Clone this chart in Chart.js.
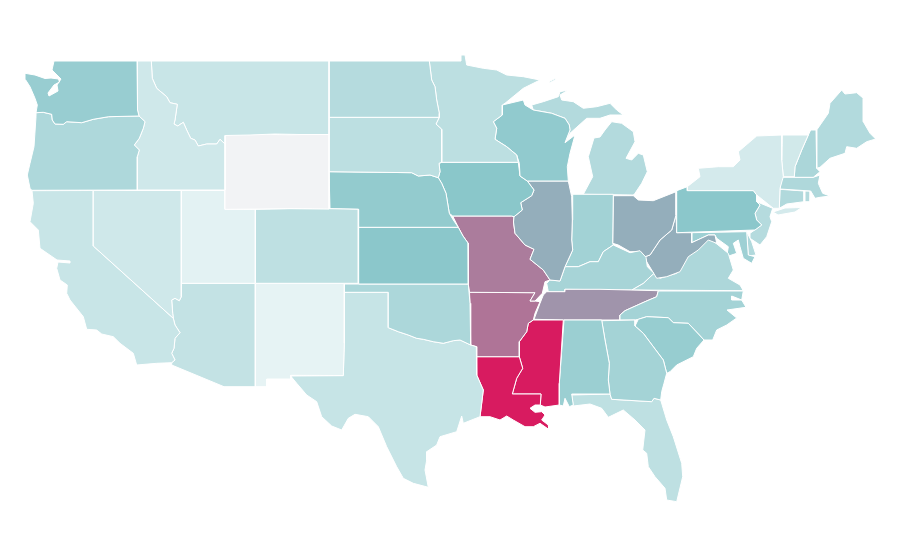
<!DOCTYPE html>
<html>
<head>
<meta charset="utf-8">
<title>US states</title>
<script src="https://cdn.jsdelivr.net/npm/chart.js@4"></script>
<style>
  html, body { margin: 0; padding: 0; background: #fff; }
  #wrap { width: 900px; height: 560px; }
</style>
</head>
<body>
<div id="wrap"><canvas id="map" width="900" height="560"></canvas></div>
<script>
// value per state (0 = palest, 50 = teal, 100 = crimson)
const stateNames = ["WA","OR","ID","MT","WY","NV","CA","UT","CO","AZ","NM","ND","SD","NE","KS","OK","TX","MN","WI","IA","IL","MO","AR","LA","MS","AL","GA","FL","SC","NC","TN","KY","IN","MI","MI2","MI3","OH","PA","WV","VA","MD","DE","NJ","NY","LI","VT","NH","ME","MA","CT","RI"];
const stateValues = [43,32.5,17,20,0,17,20,7.4,25,22.6,6,29,26,45.5,49,33.5,21,26,46,49.5,57,71.5,74,100,100,41.5,37,25,43.5,37,64.5,36,38,30,30,30,57,49,57,33,40,31,29,14.5,14.5,16,34,30.6,32,31,30];

// outlines in map units
const WA = [[54,61],[137,61],[137.5,110],[139,116],[108.7,116.7],[93.3,119.3],[81.7,122.7],[66.7,121.7],[63.3,124.3],[55,124],[52.3,120],[51.7,114.3],[43.3,112.3],[36,112.7],[37.3,105],[35,98.3],[30,86.7],[25.7,80],[25,73.3],[35,75],[45,78.5],[51,78],[58.5,79],[59.5,82],[54,85],[48,93],[49,96],[58,91],[57,85],[61,79],[56,74],[52,70]];
const OR = [[36,112.7],[43.3,112.3],[51.7,114.3],[52.3,120],[55,124],[63.3,124.3],[66.7,121.7],[81.7,122.7],[93.3,119.3],[108.7,116.7],[139,116],[145,121.7],[143.3,128.3],[139.3,138.3],[134.3,145],[139.3,150],[137.3,156.7],[137.3,190],[31.7,190.3],[30,188.3],[27.3,175],[30,163.3],[34,146.7],[36,116.7]];
const ID = [[137,61],[151.3,61],[152.3,78.3],[156.7,88.3],[166.7,96.7],[170,102.7],[177.3,104.3],[175,120],[174,124],[177.7,126],[183.3,122.3],[186.7,130],[190.7,138.3],[195,140],[198.3,146],[206.7,144],[216.7,144],[220,139.3],[225,144],[225,190],[137.3,190],[137.3,156.7],[139.3,150],[134.3,145],[139.3,138.3],[143.3,128.3],[145,121.7],[139,116],[137.5,110]];
const MT = [[151.3,61],[329,61],[329,134.5],[300,134.5],[275,134],[250,135],[225,135.5],[225,144],[220,139.3],[216.7,144],[206.7,144],[198.3,146],[195,140],[190.7,138.3],[186.7,130],[183.3,122.3],[177.7,126],[174,124],[175,120],[177.3,104.3],[170,102.7],[166.7,96.7],[156.7,88.3],[152.3,78.3]];
const WY = [[225,135],[260,134.3],[290,134.8],[329,134],[329,209],[290,208.5],[260,209],[225,209.3]];
const NV = [[93.3,190.5],[181.3,190.5],[181.3,296.7],[179.3,300.7],[175,298.3],[171.7,300],[172.7,313.3],[173.3,318.3],[93.3,246]];
const CA = [[32,190.7],[93.3,190.5],[93.3,246],[173.3,318.3],[175,325],[180,332.7],[175,338.3],[174,348.3],[171.7,353.3],[175,360],[171.7,362.7],[156.7,363.3],[136.7,365],[133.3,353.3],[120,343.3],[113.3,336.7],[101.7,334],[96.7,330],[86.7,329.3],[83.3,316.7],[70,300],[66.7,293.3],[67.3,285],[60,280],[56.7,268.3],[58,262],[70,263],[70,261],[57,260],[40,248.3],[38.3,230],[30,221.7],[33.3,203.3]];
const UT = [[181.3,190.5],[225,190.5],[225,209.3],[255.3,209.3],[255.3,283.3],[181.3,283.3]];
const CO = [[255.3,209.3],[290,208.7],[330,208.7],[358.3,209.3],[358.3,283.3],[255.3,283.3]];
const AZ = [[181.3,283.3],[255.3,283.3],[255.3,386.7],[224,386.7],[171.7,365],[171.7,362.7],[175,360],[171.7,353.3],[174,348.3],[175,338.3],[180,332.7],[175,325],[173.3,318.3],[172.7,313.3],[171.7,300],[175,298.3],[179.3,300.7],[181.3,296.7]];
const NM = [[255.3,283.3],[344.3,283.3],[344.3,343],[343.3,375.5],[290.7,375.3],[290.7,379],[266.7,379],[266.7,386.7],[255.3,386.7]];
const ND = [[329,61],[429.3,61],[431.7,80],[435,86.7],[436.7,100],[439.3,113.3],[439.3,117.3],[329,117.3]];
const SD = [[329,117.3],[439.3,117.3],[436,124],[441.7,129.3],[441.7,162.3],[439,163.3],[440,171.7],[438.3,177.7],[430,175],[418.3,176],[411.7,172.7],[329,171.7]];
const NE = [[329,171.7],[411.7,172.7],[418.3,176],[430,175],[438.3,177.7],[441.7,183.3],[446,193.3],[449.3,213.3],[453.3,220],[458.3,227.3],[358.7,227.3],[358.7,209.3],[330,208.7]];
const KS = [[358.7,227.3],[458.3,227.3],[463,236],[468,243],[468.3,284],[358.7,284]];
const OK = [[344.3,284],[468.3,284],[470,303.3],[470.7,345],[460,340],[453.3,340.7],[443.3,343.3],[433.3,341.7],[423.3,339.3],[416.7,338.3],[408.3,335],[398.3,331.7],[388.3,327.7],[388.3,292.3],[344.3,292.3]];
const TX = [[344.3,292.3],[388.3,292.3],[388.3,327.7],[398.3,331.7],[408.3,335],[416.7,338.3],[423.3,339.3],[433.3,341.7],[443.3,343.3],[453.3,340.7],[460,340],[470.7,345],[476.3,346.7],[476.7,375],[483.3,390],[481.7,403.3],[480,416.7],[463.3,423.3],[461.7,416],[456.7,431.7],[440,436.7],[436.7,445],[426.7,451.7],[426.7,460],[425,470],[428.3,487.3],[413.3,483.3],[403.3,478.3],[396.7,466.7],[386.7,446.7],[378.3,426.7],[368.3,416.7],[355,414.3],[348.3,418.3],[341.7,430],[331.7,426],[321.7,416.7],[316.7,401.7],[306.7,395],[296.7,383.3],[290.7,376],[343.3,375.7],[344.3,343]];
const MN = [[429.3,61],[461,61],[461,55],[465,55],[466.7,65],[483.3,68.3],[496.7,70],[506.7,75],[523.3,76.7],[540,80],[523.3,88.3],[505,103.3],[502.3,105],[502.3,115],[493.3,121.7],[496.7,128.3],[495,139.3],[506.7,146.7],[516.7,155],[518.3,162.3],[441.7,162.3],[441.7,129.3],[436,124],[439.3,117.3],[439.3,113.3],[436.7,100],[435,86.7],[431.7,80]];
const WI = [[502.3,105],[523.3,100],[525,105],[533.3,110],[551.7,113.3],[565,118.3],[569.3,125],[570,130],[565,142.7],[575,135],[570,153.3],[567.3,166.7],[568.3,181],[527.3,181],[520,176],[519.3,163.3],[516.7,155],[506.7,146.7],[495,139.3],[496.7,128.3],[493.3,121.7],[502.3,115]];
const IA = [[441.7,162.3],[518.3,162.3],[520,176],[527.3,181],[534,190],[531.7,195.7],[520.7,202.7],[522.3,210],[514,216.7],[511.7,216],[452.7,216],[449.3,213.3],[446,193.3],[441.7,183.3],[438.3,177.7],[440,171.7],[439,163.3]];
const IL = [[527.3,181],[568.3,181],[571.7,196.7],[572.3,220],[571.7,240],[572.7,250],[565,266.7],[560,281],[550,280],[543.3,270],[530,259.3],[534,249.3],[525,245],[515,233.3],[513.5,222],[514,216.7],[522.3,210],[520.7,202.7],[531.7,195.7],[534,190]];
const MO = [[452.7,216],[511.7,216],[514,216.7],[513.5,222],[515,233.3],[525,245],[534,249.3],[530,259.3],[543.3,270],[550,280],[545,281.7],[542.3,293.3],[535,301],[530,301],[535,292.7],[469.5,292.3],[468.3,284],[468,243],[463,236],[458.3,227.3]];
const AR = [[469.5,292.3],[535,292.7],[530,301],[535,301],[540,301.7],[535,313.3],[533.3,320],[528.3,323.3],[526.7,331.7],[519.3,341.7],[519.3,356.7],[476.7,356.7],[476.7,346.7],[470.7,345],[470,303.3]];
const LA = [[476.7,356.7],[519.3,356.7],[522.7,368.3],[516.7,378.3],[512.3,394],[541,394],[540.3,405],[535,405],[530,408.3],[535,412.3],[541.7,411.7],[545,415],[541.7,420],[548.3,425],[548.7,429.3],[540,423.3],[533.3,426.7],[525,426.7],[513.3,420],[506.7,416],[500,420],[490,416.7],[480,416.7],[481.7,403.3],[483.3,390],[476.7,375]];
const MS = [[533.3,320],[563.3,320],[559.3,383.3],[559.3,405],[545,407],[540.3,405],[541,394],[512.3,394],[516.7,378.3],[522.7,368.3],[519.3,356.7],[519.3,341.7],[526.7,331.7],[528.3,323.3]];
const AL = [[564,320],[601.7,320],[605,340],[609.3,363.3],[608.3,380],[610,394],[571.7,394],[573.3,405],[569.3,406.7],[565,398.3],[563.3,406],[559.3,405],[559.3,383.3]];
const GA = [[601.7,320.7],[635,320],[635,326],[643.3,333.3],[653.3,346.7],[663.3,360],[666.7,373.3],[664,383.3],[661.7,391.7],[660.7,400],[654,398.3],[651.7,401.7],[611.7,399.3],[610,394],[608.3,380],[609.3,363.3],[605,340]];
const FL = [[571.7,395],[610,394],[611.7,399.3],[651.7,401.7],[654,398.3],[660.7,400],[666.7,420],[673.3,436.7],[681.7,463.3],[682.7,476.7],[676.7,501.7],[666.7,500],[665,488.3],[655,476.7],[648.3,466.7],[646.7,453.3],[642.7,450],[645,430],[635,420],[623.3,410],[608.3,417.3],[601.7,408.3],[590,404],[573.3,406]];
const SC = [[635,326],[638.3,319.3],[646.7,316.7],[668.3,317.7],[673.3,322.7],[688.3,323.3],[704,340],[696.7,348.3],[693.3,356.7],[676.7,365],[670,371.7],[666.7,373.3],[663.3,360],[653.3,346.7],[643.3,333.3]];
const NC = [[620,315],[625,310.7],[645,301.7],[656.7,296.7],[658.3,291],[743.3,291],[741.7,300],[731.7,296],[731.7,300],[741.7,300],[746,307.3],[727,310],[736.7,318],[726.7,325],[716.7,330],[712.7,340],[704,340],[688.3,323.3],[673.3,322.7],[668.3,317.7],[646.7,316.7],[638.3,319.3],[635,320],[620,320]];
const TN = [[546.7,291.7],[565,291.7],[565,289.3],[600,289.3],[630,290],[658.3,290.7],[656.7,296.7],[645,301.7],[625,310.7],[620,315],[620,320],[563.3,320],[534,319.3],[540,303.3],[543.3,295]];
const KY = [[548.3,291.7],[546.7,283.3],[550,280],[560,281],[565,266.7],[578.3,266.7],[590,261.7],[598.3,261.7],[603.3,251.7],[613.3,245],[630,252.7],[640,250.7],[646,257.3],[647.3,266.7],[654,273.3],[643.3,283.3],[631.7,290],[565,289.3],[565,291.7]];
const IN = [[572.7,194.3],[613.3,194.3],[612.7,243.3],[613.3,245],[603.3,251.7],[598.3,261.7],[590,261.7],[578.3,266.7],[565,266.7],[572.7,250],[571.7,240],[572.3,220]];
const MI = [[583.3,194.3],[592.7,176.7],[588.3,156.7],[594,138],[600,137],[605,130],[611.7,121.7],[621.7,123.3],[633.3,131.7],[635,141.7],[626,158.3],[631.7,160],[638.3,153.3],[643.3,155],[647.3,171.7],[641.7,183.3],[635,193.3],[633.3,195]];
const MI2 = [[533.3,110],[531.7,105],[543.3,101.7],[558.3,96.7],[560,91.7],[568.3,90],[560,95],[561.7,100],[573.3,101.7],[583.3,108.3],[596.7,106.7],[610,103.3],[616.7,110],[623.3,115],[610,115],[600,118.3],[586.7,118.3],[570,133.3],[565,142.7],[570,130],[569.3,125],[565,118.3],[551.7,113.3]];
const MI3 = [[549,81.7],[556,78],[555,80],[550,82.5]];
const OH = [[613.3,195.7],[633.3,195.7],[638.3,200],[653.3,200.7],[676,191.7],[676,215],[671.7,230],[660,240],[650,255],[645,256.7],[640,251.7],[630,251.7],[618.3,245],[612.7,243.3]];
const PA = [[676.7,190.7],[687.3,186.7],[687.3,190.7],[753.3,190.7],[756.7,195],[756.7,201.7],[760,205],[755,213.3],[756.7,220],[761.7,225],[755,230],[676.7,232.7]];
const WV = [[676,215],[676.7,232.7],[691.7,232.7],[691.7,242.7],[708.3,235],[715,235],[716.7,243.3],[708.3,240],[698.3,250],[688.3,256.7],[680,271.7],[666.7,276.7],[656.7,278.3],[646.7,261.7],[645,256.7],[650,255],[660,240],[671.7,230]];
const VA = [[631.7,290],[643.3,283.3],[654,273.3],[660,278.3],[676.7,273.3],[683.3,263.3],[690,253.3],[706.7,236.7],[716,243.3],[728.3,253.3],[733.3,270],[728.3,278.3],[740,285],[743.3,290.7]];
const MD = [[691.7,232.7],[746.7,231.7],[748.3,255],[755,256.7],[751.7,263.3],[743.3,258.3],[740,246.7],[738.3,240],[733.3,243.3],[736.7,253.3],[726.7,256.7],[728.3,246.7],[716.7,238.3],[715,235],[708.3,235],[691.7,242.7]];
const DE = [[746.7,231.7],[751.7,241.7],[756,255],[748.3,256]];
const NJ = [[756.7,201.7],[772.7,208.3],[770,216.7],[771.7,221.7],[766.7,236.7],[760,245],[750,238.3],[750,233.3],[761.7,225],[756.7,220],[755,213.3],[760,205]];
const NY = [[687.3,186.7],[700,176.7],[698.3,168.3],[718.3,166.7],[733.3,166.7],[740,160],[738.3,151.7],[756.7,136],[781.7,135],[781.7,160],[783.3,176.7],[780,188.3],[779.3,208.3],[773.3,208.3],[756.7,195],[753.3,190.7],[687.3,190.7]];
const LI = [[773,212],[785,208],[801.7,207.5],[795,212],[778,215]];
const VT = [[782.3,135],[808.3,135],[801.7,150],[795,166.7],[794.3,176.7],[783.3,176.7],[781.7,160]];
const NH = [[808.3,135],[810.7,130],[816,130],[816.7,168.3],[820,171.7],[813.3,177.3],[794.3,177.3],[795,166.7],[801.7,150]];
const ME = [[816.7,130],[828.3,113.3],[830,103.3],[841.7,90],[845,94],[856.7,92.7],[863.3,98.3],[863.3,121.7],[870,133.3],[875.7,139],[866.7,141.7],[856.7,148.3],[846.7,146.7],[845,153.3],[830,158.3],[820,167.3],[816.7,168.3]];
const MA = [[781.7,177.3],[813.3,177.3],[820,175],[818.3,183.3],[822.7,193.3],[830,196],[820,197.3],[815,198.3],[810.7,191],[780,189]];
const CT = [[780,189.3],[804,191],[804,201.7],[786.7,204],[779.3,208.3]];
const RI = [[805,191],[810.7,191],[810,201.7],[805,201.7]];

const outlines = {WA,OR,ID,MT,WY,NV,CA,UT,CO,AZ,NM,ND,SD,NE,KS,OK,TX,MN,WI,IA,IL,MO,AR,LA,MS,AL,GA,FL,SC,NC,TN,KY,IN,MI,MI2,MI3,OH,PA,WV,VA,MD,DE,NJ,NY,LI,VT,NH,ME,MA,CT,RI};

const stops = [0, 6, 50, 100];
const stopColors = [[242, 243, 245], [230, 243, 244], [137, 198, 202], [216, 27, 96]];

function shade(v) {
  let i = 0;
  while (i < stops.length - 2 && v > stops[i + 1]) i++;
  const t = (v - stops[i]) / (stops[i + 1] - stops[i]);
  const c = stopColors[i].map((x, k) => Math.round(x + (stopColors[i + 1][k] - x) * t));
  return `rgb(${c[0]},${c[1]},${c[2]})`;
}

new Chart(document.getElementById("map"), {
  type: "scatter",
  data: {
    datasets: stateNames.map((name, i) => ({
      label: name,
      data: [...outlines[name], outlines[name][0]],
      showLine: true,
      fill: "shape",
      backgroundColor: shade(stateValues[i]),
      borderColor: "#fff",
      borderWidth: 1,
      pointRadius: 0,
      pointHoverRadius: 0,
      tension: 0,
    }))
  },
  options: {
    responsive: false,
    animation: false,
    devicePixelRatio: 1,
    layout: { padding: 0 },
    plugins: { legend: { display: false }, tooltip: { enabled: false } },
    scales: {
      x: { type: "linear", min: 0, max: 900, display: false },
      y: { type: "linear", min: 0, max: 560, reverse: true, display: false }
    }
  }
});
</script>
</body>
</html>
